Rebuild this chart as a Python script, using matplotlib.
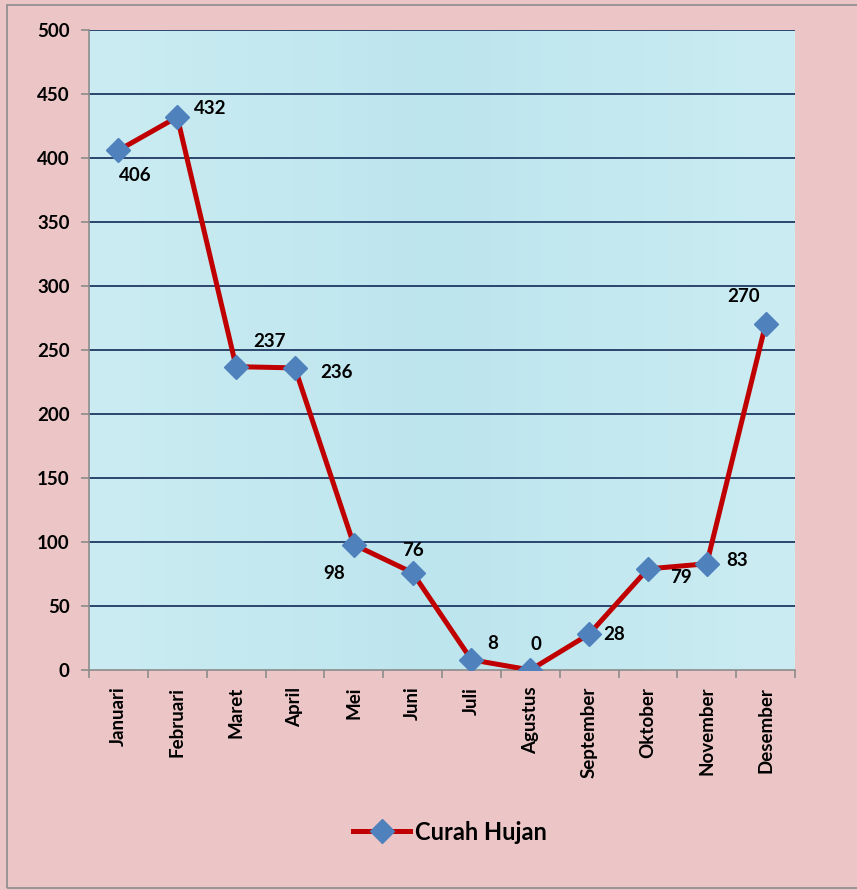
import numpy as np
import matplotlib
matplotlib.use("Agg")
import matplotlib.pyplot as plt
from matplotlib.patches import Rectangle

bulan = ["Januari", "Februari", "Maret", "April", "Mei", "Juni", "Juli",
         "Agustus", "September", "Oktober", "November", "Desember"]
curah_hujan = [406, 432, 237, 236, 98, 76, 8, 0, 28, 79, 83, 270]
# label offsets in points (dx, dy) per point
label_off = [(12, -18), (24, 6), (24, 18), (30, -3), (-14, -21), (0, 16),
             (15, 12), (4, 18), (18, 0), (24, -6), (22, 2), (-16, 20)]

plt.rcParams['font.family'] = ['Lato', 'DejaVu Sans']
pink = '#ECC6C6'
fs = 13.5

fig = plt.figure(figsize=(8.57, 8.9), dpi=100, facecolor=pink)
fig.patches.append(Rectangle((7 / 857, 2 / 890), 1.0, 883 / 890, transform=fig.transFigure,
                             fill=False, edgecolor='#8C8C8C', lw=1.2))
ax = fig.add_axes([89 / 857, 1 - 670 / 890, 706 / 857, 640 / 890])

# watery background
grad = np.linspace(0, 1, 256).reshape(1, -1)
ax.imshow(np.vstack([grad, grad]), extent=(-0.5, 11.5, 0, 500), aspect='auto',
          cmap=matplotlib.colors.LinearSegmentedColormap.from_list('w', ['#CBECF2', '#BDE5EE', '#CBECF2']),
          zorder=0)

x = np.arange(len(bulan))
ax.plot(x, curah_hujan, color='#C00000', lw=3.6, marker='D', markersize=12,
        markerfacecolor='#4F81BD', markeredgecolor='#4F81BD', zorder=3, label='Curah Hujan')

for xi, v, (dx, dy) in zip(x, curah_hujan, label_off):
    ax.annotate(str(v), (xi, v), xytext=(dx, dy), textcoords='offset points',
                ha='center', va='center', fontsize=fs, fontweight='bold', zorder=4)

ax.set_xlim(-0.5, 11.5)
ax.set_ylim(0, 500)
ax.set_yticks(range(0, 501, 50))
ax.set_yticklabels([str(v) for v in range(0, 501, 50)], fontsize=fs, fontweight='bold')
for y in range(50, 501, 50):
    ax.axhline(y, color='#1F3864', lw=1.3, zorder=1)

ax.set_xticks(x)
ax.set_xticklabels(bulan, rotation=90, fontsize=fs, fontweight='bold')
ax.set_xticks(np.arange(-0.5, 12, 1), minor=True)
ax.tick_params(axis='x', which='major', length=0, pad=12)
ax.tick_params(axis='x', which='minor', length=6, color='#8C8C8C', width=1.2)
ax.tick_params(axis='y', length=6, color='#8C8C8C', width=1.2, pad=8)

for s in ['top', 'right']:
    ax.spines[s].set_visible(False)
for s in ['left', 'bottom']:
    ax.spines[s].set_color('#8C8C8C')
    ax.spines[s].set_linewidth(1.2)

fig.legend(loc='center', bbox_to_anchor=(450 / 857, 1 - 832 / 890), frameon=False,
           prop={'size': 17, 'weight': 'bold'}, handlelength=2.4, handletextpad=0.2)

fig.savefig('out.png', dpi=100, facecolor=pink)
